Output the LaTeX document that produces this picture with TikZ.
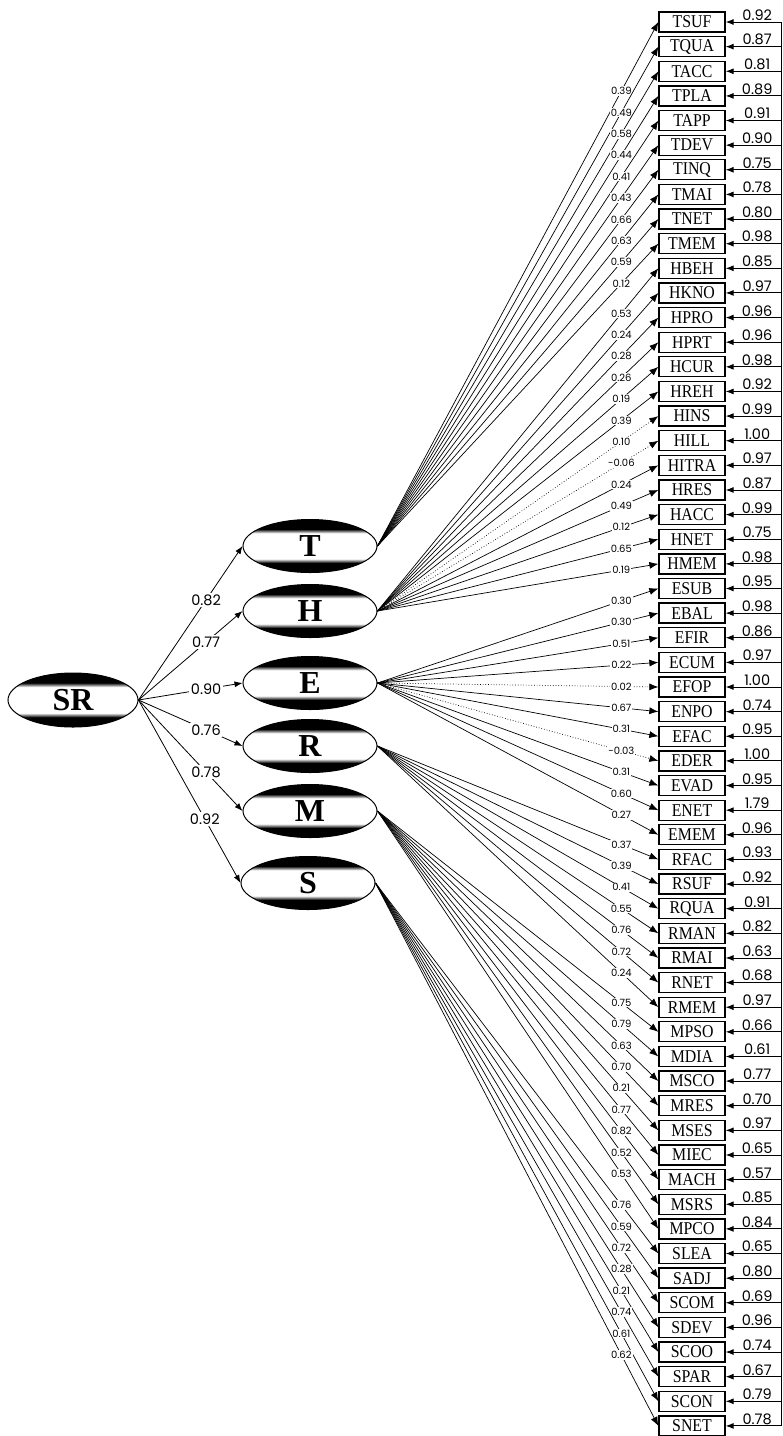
\documentclass[tikz,border=0pt]{standalone}
\usepackage{fontspec}
\setmainfont{Liberation Serif}
\newfontfamily\numfont{Poppins}
\newfontfamily\boxfont[FakeStretch=0.88]{Liberation Serif}
\usepackage{tikz}
\usetikzlibrary{arrows.meta,calc,shapes.geometric}
\pgfdeclareverticalshading{latshade}{100bp}{color(0bp)=(black); color(34bp)=(black); color(38bp)=(white); color(62bp)=(white); color(66bp)=(black); color(100bp)=(black)}
\tikzset{
  latent/.style={ellipse,draw,line width=1pt,shade,shading=latshade,minimum width=134pt,minimum height=53pt,inner sep=0pt,font=\fontsize{32}{32}\selectfont\bfseries},
  indbox/.style={draw,fill=white,line width=1.3pt,minimum width=66pt,minimum height=20pt,inner sep=0pt,font=\boxfont\fontsize{18}{18}\selectfont},
  load/.style={line width=0.7pt,-{Latex[length=9pt,width=7pt]}},
  errarr/.style={line width=0.9pt,-{Latex[length=8pt,width=6pt]}},
  sarr/.style={line width=0.8pt,-{Latex[length=8pt,width=6pt]}},
  ldlbl/.style={fill=white,inner sep=1pt,font=\numfont\fontsize{10}{10}\selectfont},
  errlbl/.style={above,inner sep=1pt,font=\numfont\fontsize{14.5}{14.5}\selectfont},
  pathlbl/.style={fill=white,inner sep=1.5pt,font=\numfont\fontsize{14.5}{14.5}\selectfont}
}
\begin{document}
\begin{tikzpicture}[x=1pt,y=-1pt]
\useasboundingbox[fill=white] (0,0) rectangle (783,1436);

% second-order and first-order factors
\node[latent,minimum width=130pt,minimum height=54pt] (SR) at (73,700) {SR};
\node[latent] (T) at (310,546) {T};
\node[latent] (H) at (310,611) {H};
\node[latent] (E) at (310,683) {E};
\node[latent] (R) at (310,746) {R};
\node[latent] (M) at (310,811) {M};
\node[latent] (S) at (308,883) {S};
\foreach \lv/\gm in {T/0.82,H/0.77,E/0.90,R/0.76,M/0.78,S/0.92}
  \draw[sarr] (SR.east) -- (\lv.west) node[pathlbl,pos=0.65] {\gm};

% indicators, loadings and error terms
\foreach \nm/\err/\lv/\ld/\ls [count=\i from 0] in {
  TSUF/0.92/T/0.39/solid, TQUA/0.87/T/0.49/solid, TACC/0.81/T/0.58/solid, TPLA/0.89/T/0.44/solid,
  TAPP/0.91/T/0.41/solid, TDEV/0.90/T/0.43/solid, TINQ/0.75/T/0.66/solid, TMAI/0.78/T/0.63/solid,
  TNET/0.80/T/0.59/solid, TMEM/0.98/T/0.12/solid,
  HBEH/0.85/H/0.53/solid, HKNO/0.97/H/0.24/solid, HPRO/0.96/H/0.28/solid, HPRT/0.96/H/0.26/solid,
  HCUR/0.98/H/0.19/solid, HREH/0.92/H/0.39/solid, HINS/0.99/H/0.10/dotted, HILL/1.00/H/-0.06/dotted,
  HITRA/0.97/H/0.24/solid, HRES/0.87/H/0.49/solid, HACC/0.99/H/0.12/solid, HNET/0.75/H/0.65/solid,
  HMEM/0.98/H/0.19/solid,
  ESUB/0.95/E/0.30/solid, EBAL/0.98/E/0.30/solid, EFIR/0.86/E/0.51/solid, ECUM/0.97/E/0.22/solid,
  EFOP/1.00/E/0.02/dotted, ENPO/0.74/E/0.67/solid, EFAC/0.95/E/0.31/solid, EDER/1.00/E/-0.03/dotted,
  EVAD/0.95/E/0.31/solid, ENET/1.79/E/0.60/solid, EMEM/0.96/E/0.27/solid,
  RFAC/0.93/R/0.37/solid, RSUF/0.92/R/0.39/solid, RQUA/0.91/R/0.41/solid, RMAN/0.82/R/0.55/solid,
  RMAI/0.63/R/0.76/solid, RNET/0.68/R/0.72/solid, RMEM/0.97/R/0.24/solid,
  MPSO/0.66/M/0.75/solid, MDIA/0.61/M/0.79/solid, MSCO/0.77/M/0.63/solid, MRES/0.70/M/0.70/solid,
  MSES/0.97/M/0.21/solid, MIEC/0.65/M/0.77/solid, MACH/0.57/M/0.82/solid, MSRS/0.85/M/0.52/solid,
  MPCO/0.84/M/0.53/solid,
  SLEA/0.65/S/0.76/solid, SADJ/0.80/S/0.59/solid, SCOM/0.69/S/0.72/solid, SDEV/0.96/S/0.28/solid,
  SCOO/0.74/S/0.21/solid, SPAR/0.67/S/0.74/solid, SCON/0.79/S/0.61/solid, SNET/0.78/S/0.62/solid}{
  \node[indbox] (\nm) at (692,{22+24.63*\i}) {\nm};
  \coordinate (e\nm) at (781,{22+24.63*\i});
  \draw[errarr] (e\nm) -- (\nm.east) node[errlbl,pos=0.43] {\err};
  \draw[load,\ls] let \p1=(\lv.east), \p2=(\nm.west), \n1={(\x2-\x1-37pt)/(\x2-\x1)} in
    (\lv.east) -- (\nm.west) node[ldlbl,pos=\n1] {\ld};
}
\draw[line width=0.9pt] (eTSUF) -- (eSNET);
\end{tikzpicture}
\end{document}
